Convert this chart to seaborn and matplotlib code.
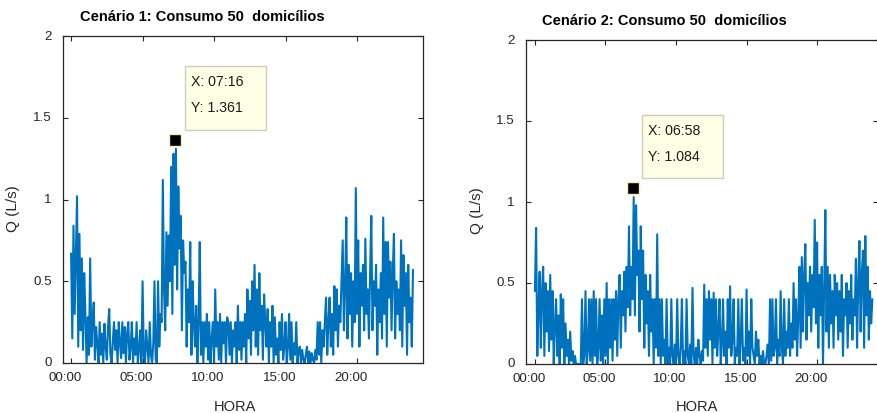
import numpy as np
import pandas as pd
import matplotlib
matplotlib.use("Agg")
import matplotlib.pyplot as plt
import matplotlib.transforms as mtransforms
from matplotlib.patches import Rectangle
import seaborn as sns

# ---------------- data (5-minute samples, one row per hour) ----------------
q1 = [
    0.67, 0.15, 0.84, 0.30, 0.65, 1.02, 0.10, 0.79, 0.20, 0.64, 0.08, 0.55,
    0.30, 0.00, 0.28, 0.05, 0.64, 0.10, 0.25, 0.37, 0.02, 0.22, 0.12, 0.00,
    0.25, 0.05, 0.18, 0.00, 0.24, 0.10, 0.02, 0.22, 0.33, 0.05, 0.00, 0.12,
    0.25, 0.08, 0.20, 0.00, 0.25, 0.12, 0.03, 0.25, 0.06, 0.22, 0.00, 0.18,
    0.25, 0.02, 0.10, 0.25, 0.00, 0.15, 0.05, 0.25, 0.00, 0.08, 0.20, 0.00,
    0.50, 0.05, 0.00, 0.20, 0.10, 0.00, 0.25, 0.05, 0.00, 0.12, 0.50, 0.02,
    0.00, 0.50, 0.10, 0.30, 0.25, 1.12, 0.45, 0.20, 0.80, 0.35, 0.78, 0.50,
    1.20, 0.30, 1.28, 0.60, 1.31, 0.45, 1.08, 0.70, 0.90, 0.20, 0.75, 0.55,
    0.62, 0.10, 0.45, 0.25, 0.74, 0.05, 0.50, 0.25, 0.10, 0.35, 0.00, 0.25,
    0.74, 0.05, 0.25, 0.00, 0.25, 0.10, 0.30, 0.02, 0.25, 0.00, 0.15, 0.25,
    0.00, 0.45, 0.10, 0.25, 0.02, 0.30, 0.00, 0.25, 0.12, 0.25, 0.00, 0.28,
    0.25, 0.05, 0.25, 0.00, 0.20, 0.10, 0.25, 0.00, 0.35, 0.08, 0.25, 0.02,
    0.25, 0.10, 0.30, 0.00, 0.45, 0.15, 0.38, 0.05, 0.50, 0.20, 0.60, 0.10,
    0.45, 0.05, 0.55, 0.20, 0.35, 0.02, 0.42, 0.25, 0.10, 0.33, 0.00, 0.25,
    0.10, 0.35, 0.00, 0.28, 0.05, 0.15, 0.00, 0.25, 0.08, 0.30, 0.02, 0.10,
    0.25, 0.00, 0.10, 0.30, 0.02, 0.25, 0.00, 0.12, 0.05, 0.25, 0.00, 0.08,
    0.10, 0.00, 0.08, 0.02, 0.00, 0.05, 0.10, 0.00, 0.07, 0.00, 0.06, 0.02,
    0.00, 0.08, 0.02, 0.25, 0.05, 0.25, 0.00, 0.20, 0.10, 0.25, 0.40, 0.05,
    0.25, 0.40, 0.10, 0.30, 0.05, 0.47, 0.20, 0.45, 0.10, 0.35, 0.25, 0.50,
    0.75, 0.20, 0.45, 0.89, 0.15, 0.60, 0.30, 0.55, 0.10, 0.50, 0.25, 1.07,
    0.30, 0.75, 0.10, 0.55, 0.35, 0.60, 0.20, 0.76, 0.30, 0.45, 0.15, 0.55,
    0.90, 0.20, 0.50, 0.35, 0.60, 0.05, 0.45, 0.25, 0.55, 0.15, 0.89, 0.30,
    0.74, 0.10, 0.74, 0.40, 0.62, 0.20, 0.55, 0.79, 0.15, 0.50, 0.30, 0.45,
    0.20, 0.75, 0.10, 0.66, 0.35, 0.55, 0.05, 0.60, 0.25, 0.40, 0.10, 0.57,
]
q2 = [
    0.45, 0.84, 0.05, 0.33, 0.57, 0.10, 0.45, 0.60, 0.05, 0.50, 0.20, 0.45,
    0.08, 0.55, 0.15, 0.45, 0.00, 0.25, 0.40, 0.05, 0.30, 0.00, 0.43, 0.10,
    0.40, 0.00, 0.25, 0.05, 0.15, 0.00, 0.20, 0.02, 0.08, 0.00, 0.05, 0.00,
    0.00, 0.00, 0.00, 0.00, 0.40, 0.00, 0.05, 0.45, 0.00, 0.08, 0.40, 0.02,
    0.40, 0.00, 0.45, 0.05, 0.40, 0.00, 0.10, 0.40, 0.02, 0.30, 0.00, 0.40,
    0.05, 0.50, 0.00, 0.40, 0.10, 0.40, 0.02, 0.40, 0.15, 0.45, 0.05, 0.40,
    0.55, 0.10, 0.45, 0.30, 0.57, 0.20, 0.60, 0.35, 0.85, 0.30, 0.60, 0.40,
    1.03, 0.30, 0.98, 0.55, 0.70, 0.20, 0.85, 0.40, 0.70, 0.10, 0.55, 0.25,
    0.45, 0.05, 0.55, 0.20, 0.40, 0.00, 0.40, 0.10, 0.80, 0.05, 0.40, 0.00,
    0.40, 0.05, 0.15, 0.00, 0.40, 0.00, 0.10, 0.00, 0.40, 0.05, 0.00, 0.12,
    0.00, 0.40, 0.05, 0.00, 0.10, 0.40, 0.00, 0.08, 0.00, 0.40, 0.05, 0.00,
    0.12, 0.00, 0.47, 0.05, 0.00, 0.10, 0.00, 0.15, 0.05, 0.00, 0.08, 0.02,
    0.49, 0.10, 0.40, 0.05, 0.45, 0.15, 0.40, 0.00, 0.44, 0.10, 0.40, 0.05,
    0.20, 0.40, 0.00, 0.12, 0.40, 0.05, 0.20, 0.00, 0.40, 0.10, 0.48, 0.05,
    0.15, 0.40, 0.00, 0.10, 0.05, 0.40, 0.00, 0.15, 0.40, 0.02, 0.10, 0.00,
    0.46, 0.05, 0.20, 0.00, 0.40, 0.10, 0.05, 0.00, 0.20, 0.05, 0.15, 0.00,
    0.05, 0.00, 0.08, 0.00, 0.00, 0.05, 0.12, 0.00, 0.40, 0.02, 0.40, 0.05,
    0.10, 0.40, 0.00, 0.15, 0.05, 0.45, 0.10, 0.00, 0.40, 0.05, 0.20, 0.10,
    0.40, 0.05, 0.25, 0.10, 0.50, 0.15, 0.40, 0.05, 0.30, 0.60, 0.10, 0.66,
    0.20, 0.55, 0.74, 0.15, 0.50, 0.30, 0.60, 0.20, 0.55, 0.35, 0.89, 0.25,
    0.75, 0.10, 0.55, 0.30, 0.60, 0.00, 0.45, 0.95, 0.20, 0.60, 0.10, 0.55,
    0.25, 0.45, 0.10, 0.55, 0.30, 0.50, 0.15, 0.45, 0.20, 0.55, 0.05, 0.40,
    0.30, 0.50, 0.10, 0.45, 0.25, 0.55, 0.15, 0.40, 0.30, 0.65, 0.10, 0.50,
    0.76, 0.20, 0.55, 0.70, 0.10, 0.79, 0.30, 0.60, 0.15, 0.45, 0.25, 0.40,
]
minutes = np.arange(0, 1440, 5)          # sample times (minutes after 00:00)

titles = ["Cenário 1: Consumo 50  domicílios", "Cenário 2: Consumo 50  domicílios"]
tip_minute = [436, 418]                  # 07:16 and 06:58
tip_value = [1.361, 1.084]
tip_text_x = ["X: 07:16", "X: 06:58"]
tip_text_y = ["Y: 1.361", "Y: 1.084"]
x_ticks = [0, 300, 600, 900, 1200]
x_ticklabels = ["00:00", "05:00", "10:00", "15:00", "20:00"]
y_ticks = [0, 0.5, 1, 1.5, 2]
y_ticklabels = ["0", "0.5", "1", "1.5", "2"]

# ---------------- style ----------------
sns.set_style("white")
plt.rcParams["font.family"] = ["Liberation Sans", "DejaVu Sans"]
W, H = 877, 414
fig = plt.figure(figsize=(W / 100, H / 100), dpi=100)

def fx(px):
    return px / W

def fy(py):
    return 1 - py / H

AX_COL = "#262626"
LINE_COL = "#0072BD"

# axes boxes in pixels: left, right, top, bottom
boxes = [(63, 423, 37, 364), (526, 878, 41, 365)]
xlims = [(-34, 1477), (-38, 1459)]
title_pos = [(202, 17), (664, 21)]
ylabel_pos = [(13, 209), (477, 211)]
xlabel_pos = [(235, 407), (697, 407)]
tip_box = [(185, 67, 266, 131), (642, 116, 723, 179)]
series = [q1, q2]

for i in range(2):
    l, r, t, b = boxes[i]
    ax = fig.add_axes([fx(l), fy(b), fx(r) - fx(l), (b - t) / H])
    df = pd.DataFrame({"minuto": minutes, "Q": series[i]})
    sns.lineplot(data=df, x="minuto", y="Q", ax=ax, color=LINE_COL,
                 linewidth=1.5, estimator=None)
    ax.set_xlim(*xlims[i])
    ax.set_ylim(0, 2)
    ax.set_xticks(x_ticks)
    ax.set_xticklabels(x_ticklabels)
    ax.set_yticks(y_ticks)
    ax.set_yticklabels(y_ticklabels)
    ax.set_xlabel("")
    ax.set_ylabel("")
    for s in ax.spines.values():
        s.set_visible(True)
        s.set_color(AX_COL)
        s.set_linewidth(0.9)
    ax.tick_params(direction="in", length=3.5, width=0.8, colors=AX_COL,
                   labelsize=9.6, top=True, right=True, bottom=True, left=True,
                   labelcolor=AX_COL)
    ax.tick_params(axis="x", pad=6)
    ax.tick_params(axis="y", pad=8)
    off = mtransforms.ScaledTranslation(-6 / 100, 0, fig.dpi_scale_trans)
    for lab in ax.get_xticklabels():
        lab.set_transform(lab.get_transform() + off)
    offy = mtransforms.ScaledTranslation(0, 2 / 100, fig.dpi_scale_trans)
    for lab in ax.get_yticklabels():
        lab.set_transform(lab.get_transform() + offy)

    # datatip marker
    ax.plot([tip_minute[i]], [tip_value[i]], marker="s", markersize=8.6,
            markerfacecolor="black", markeredgecolor="#F4EFB8",
            markeredgewidth=1.0, linestyle="none", zorder=5, clip_on=False)

    # texts
    fig.text(fx(title_pos[i][0]), fy(title_pos[i][1]), titles[i],
             ha="center", va="center", fontsize=10.5, fontweight="bold",
             color="black")
    fig.text(fx(ylabel_pos[i][0]), fy(ylabel_pos[i][1]), "Q (L/s)",
             ha="center", va="center", rotation=90, fontsize=11, color=AX_COL)
    fig.text(fx(xlabel_pos[i][0]), fy(xlabel_pos[i][1]), "HORA",
             ha="center", va="center", fontsize=10.5, color=AX_COL)

    # datatip box
    bx0, by0, bx1, by1 = tip_box[i]
    fig.patches.append(Rectangle((fx(bx0), fy(by1)), fx(bx1) - fx(bx0),
                                 (by1 - by0) / H, transform=fig.transFigure,
                                 facecolor="#FFFFE6", edgecolor="#CCCCC0",
                                 linewidth=1.0, zorder=10))
    fig.text(fx(bx0 + 6), fy(by0 + 15), tip_text_x[i], ha="left", va="center",
             fontsize=10.2, color="#1a1a1a", zorder=11)
    fig.text(fx(bx0 + 6), fy(by0 + 41), tip_text_y[i], ha="left", va="center",
             fontsize=10.2, color="#1a1a1a", zorder=11)

fig.savefig("out.png", dpi=100)
